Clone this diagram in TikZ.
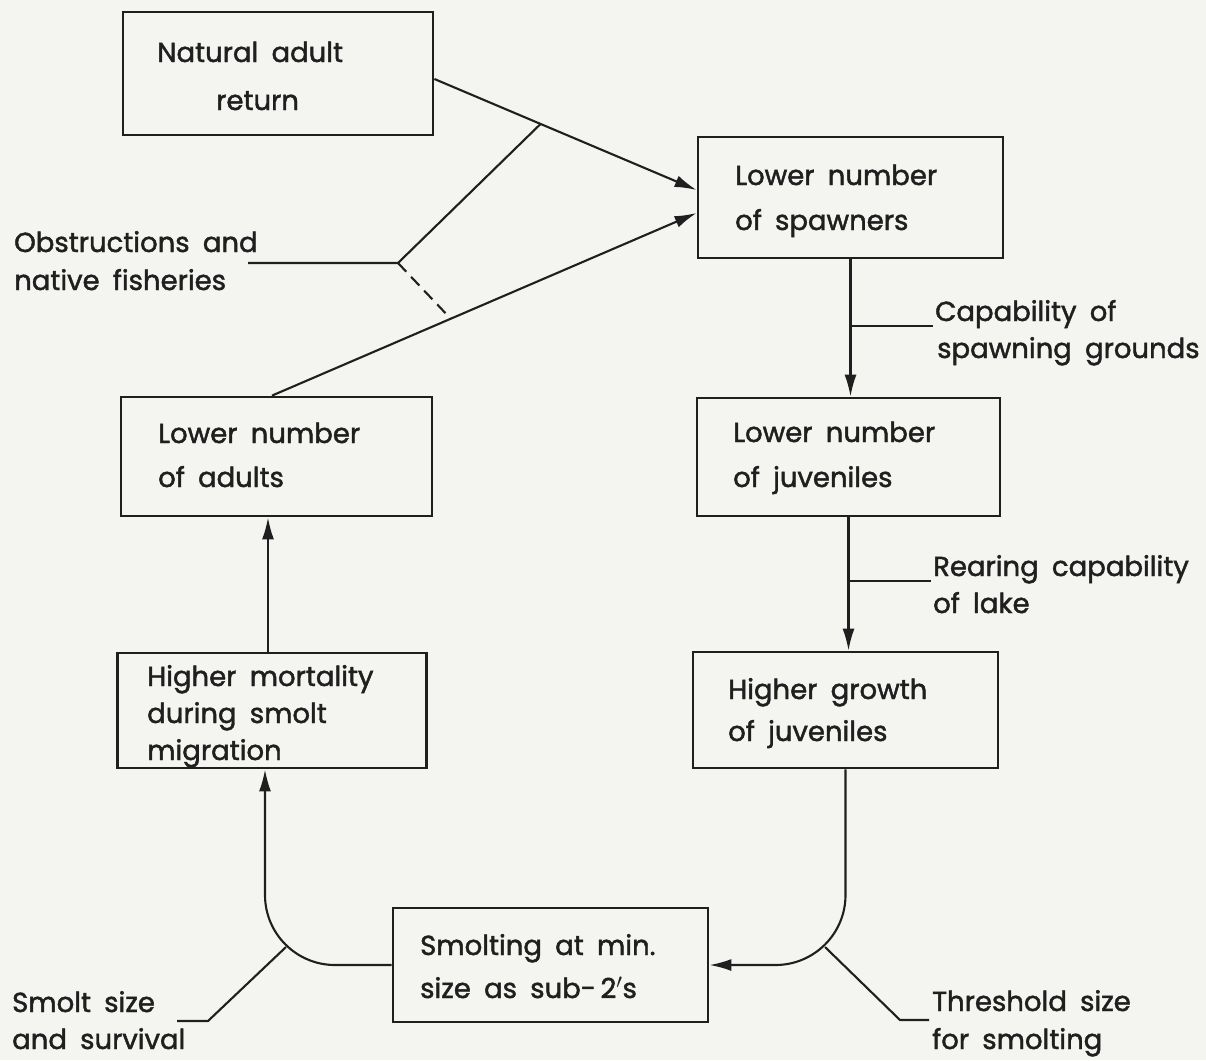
\documentclass[tikz,border=0pt]{standalone}
\usepackage{fontspec}
\setmainfont{Poppins}[WordSpace={1.8}, FakeBold=1.6]
\usetikzlibrary{arrows.meta}
\definecolor{ink}{HTML}{1F1F1F}
\definecolor{paper}{HTML}{F4F4F0}
\begin{document}
\begin{tikzpicture}[x=1pt,y=-1pt,
  box/.style={draw=ink, line width=2.8pt, inner sep=0pt},
  conn/.style={draw=ink, line width=2.1pt},
  arr/.style={-{Latex[length=22pt,width=12pt]}},
  lbl/.style={anchor=base west, inner sep=0pt, text=ink, font=\fontsize{27.5}{32}\selectfont}]
\fill[paper] (0,0) rectangle (1206,1060);
\useasboundingbox (0,0) rectangle (1206,1060);

% boxes
\node[box, minimum width=310pt, minimum height=123pt] (nar)    at (278,73.5) {};
\node[box, minimum width=305pt, minimum height=121pt] (spawn)  at (850.5,197.5) {};
\node[box, minimum width=311pt, minimum height=119pt] (adults) at (276.5,456.5) {};
\node[box, minimum width=303pt, minimum height=118pt] (juv)    at (848.5,457) {};
\node[box, minimum width=309pt, minimum height=115pt] (mort)   at (272,710.5) {};
\node[box, minimum width=305pt, minimum height=116pt] (growth) at (845.5,710) {};
\node[box, minimum width=315pt, minimum height=114pt] (smolt)  at (550.5,965) {};

% box texts
\node[lbl] (t1a) at (157,62) {Natural adult};
\node[lbl] (t1b) at (216,110) {return};
\node[lbl] (t2a) at (735,185) {Lower number};
\node[lbl] (t2b) at (735,230) {of spawners};
\node[lbl] (t3a) at (158,443) {Lower number};
\node[lbl] (t3b) at (158,487) {of adults};
\node[lbl] (t4a) at (733,442) {Lower number};
\node[lbl] (t4b) at (733,487) {of juveniles};
\node[lbl] (t5a) at (147,686) {Higher mortality};
\node[lbl] (t5b) at (147,723) {during smolt};
\node[lbl] (t5c) at (147,760) {migration};
\node[lbl] (t6a) at (728,699) {Higher growth};
\node[lbl] (t6b) at (728,741) {of juveniles};
\node[lbl] (t7a) at (420,955) {Smolting at min.};
\node[lbl] (t7b) at (420,998) {size as sub-\,2$'$s};

% side labels
\node[lbl] (obsA) at (14,252) {Obstructions and};
\node[lbl] (obsB) at (14,290) {native fisheries};
\node[lbl] (capA) at (935,321) {Capability of};
\node[lbl] (capB) at (937,358) {spawning grounds};
\node[lbl] (reaA) at (933,576) {Rearing capability};
\node[lbl] (reaB) at (933,613) {of lake};
\node[lbl] (smA) at (12,1012) {Smolt size};
\node[lbl] (smB) at (12,1049) {and survival};
\node[lbl] (thA) at (932,1011) {Threshold size};
\node[lbl] (thB) at (932,1049) {for smolting};

% top connectors
\draw[conn,arr] ([yshift=-5.5pt]nar.east) -- coordinate[pos=0.405] (j1) ([yshift=7.5pt]spawn.west);
\draw[conn,arr] ([xshift=-4.5pt]adults.north) -- coordinate[pos=0.421] (j2) ([yshift=-15.5pt]spawn.west);
\coordinate (fork) at (398,263);
\coordinate (obsEnd) at (248,263);
\draw[conn] (obsEnd) -- (fork) -- (j1);
\draw[conn, dash pattern=on 12pt off 7pt] (fork) -- (j2);

% right column
\draw[conn,arr] (spawn.south) -- (spawn.south |- juv.north);
\coordinate (capL) at (850.5,326);
\coordinate (capR) at (933,326);
\draw[conn] (capL) -- (capR);
\draw[conn,arr] (juv.south) -- (juv.south |- growth.north);
\coordinate (reaL) at (848.5,581);
\coordinate (reaR) at (931,581);
\draw[conn] (reaL) -- (reaR);

% left column
\draw[conn,arr] ([xshift=-4pt]mort.north) -- ([xshift=-4pt]mort.north |- adults.south);

% bottom loops
\draw[conn,arr,rounded corners=70pt] (growth.south) |- (smolt.east);
\draw[conn,arr,rounded corners=70pt] (smolt.west) -| ([xshift=-7pt]mort.south);

% bottom leaders
\coordinate (arcL) at (286,947);
\coordinate (kneeL) at (208,1021);
\coordinate (endL) at (177,1021);
\draw[conn] (arcL) -- (kneeL) -- (endL);
\coordinate (arcR) at (825,947);
\coordinate (kneeR) at (900,1020);
\coordinate (endR) at (929,1020);
\draw[conn] (arcR) -- (kneeR) -- (endR);
\end{tikzpicture}
\end{document}
